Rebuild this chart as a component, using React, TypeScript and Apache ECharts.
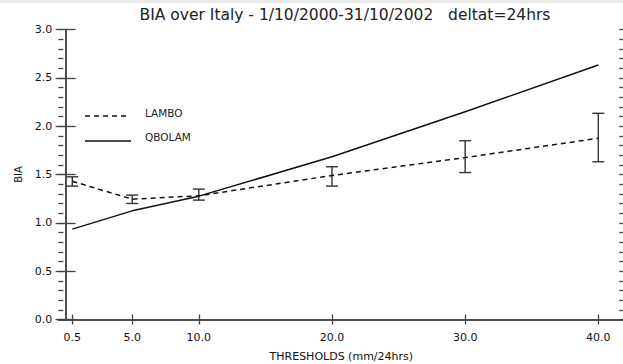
import React, { useEffect, useRef } from 'react';
import * as echarts from 'echarts';

const thresholds = [0.5, 5.0, 10.0, 20.0, 30.0, 40.0];
const lamboBia = [1.43, 1.245, 1.28, 1.49, 1.675, 1.875];
const lamboLow = [1.38, 1.2, 1.235, 1.38, 1.52, 1.632];
const lamboHigh = [1.476, 1.287, 1.349, 1.58, 1.849, 2.133];
const qbolamBia = [0.935, 1.124, 1.276, 1.683, 2.149, 2.633];
const seriesNames = ['LAMBO', 'QBOLAM'];
const titleText = 'BIA over Italy - 1/10/2000-31/10/2002   deltat=24hrs';

const FONT = 'DejaVu Sans';
const AXIS_COLOR = '#444';
const LINE_COLOR = '#111';
const X_MIN = -0.55;
const X_MAX = 41.95;

export default function App() {
  const ref = useRef<HTMLDivElement>(null);
  useEffect(() => {
    if (!ref.current) return;
    const chart = echarts.init(ref.current, undefined, { renderer: 'svg' });
    const axisLine = { show: true, lineStyle: { color: AXIS_COLOR, width: 1.5 } };
    const tickLine = { color: AXIS_COLOR, width: 1.3 };
    const fmt = (v: number) => Number(v).toFixed(1);
    const yBase = { type: 'value', min: 0, max: 3, splitLine: { show: false }, offset: 0 };
    chart.setOption({
      animation: false,
      backgroundColor: '#fff',
      title: {
        text: titleText,
        left: 340,
        textAlign: 'center',
        top: 2,
        textStyle: { fontFamily: FONT, fontSize: 15.5, fontWeight: 'normal', color: '#222' },
      },
      graphic: [
        { type: 'rect', left: 0, top: 0, shape: { width: 623, height: 3 }, style: { fill: '#e8e8e8' } },
        {
          type: 'line',
          shape: { x1: 85, y1: 116, x2: 130, y2: 116 },
          style: { stroke: LINE_COLOR, lineWidth: 1.5, lineDash: [5, 4] },
        },
        {
          type: 'line',
          shape: { x1: 85, y1: 141, x2: 131, y2: 141 },
          style: { stroke: LINE_COLOR, lineWidth: 1.5 },
        },
        {
          type: 'text',
          x: 145,
          y: 113,
          style: { text: seriesNames[0], fontFamily: FONT, fontSize: 10.5, fill: '#222', verticalAlign: 'middle' },
        },
        {
          type: 'text',
          x: 145,
          y: 137,
          style: { text: seriesNames[1], fontFamily: FONT, fontSize: 10.5, fill: '#222', verticalAlign: 'middle' },
        },
      ],
      grid: { left: 58.3, top: 29.5, width: 566, height: 290, containLabel: false, outerBoundsMode: 'none' },
      xAxis: [
        {
          type: 'value',
          position: 'bottom',
          min: X_MIN,
          max: X_MAX,
          axisLine,
          axisTick: { show: true, inside: true, length: 5, customValues: thresholds, lineStyle: tickLine },
          axisLabel: { customValues: thresholds, formatter: fmt, margin: 12, fontFamily: FONT, fontSize: 11, color: '#111' },
          splitLine: { show: false },
          name: 'THRESHOLDS (mm/24hrs)',
          nameLocation: 'middle',
          nameGap: 31,
          nameTextStyle: { fontFamily: FONT, fontSize: 11, color: '#111' },
        },
        {
          type: 'value',
          position: 'top',
          min: X_MIN,
          max: X_MAX,
          axisLine,
          axisTick: { show: true, inside: true, length: 5, customValues: thresholds, lineStyle: tickLine },
          axisLabel: { show: false },
          splitLine: { show: false },
        },
      ],
      yAxis: [
        {
          ...yBase,
          position: 'left',
          interval: 0.5,
          axisLine,
          axisTick: { show: true, inside: true, length: 10, lineStyle: tickLine },
          axisLabel: { formatter: fmt, margin: 6, fontFamily: FONT, fontSize: 11, color: '#111' },
          name: 'BIA',
          nameLocation: 'middle',
          nameGap: 31,
          nameRotate: 90,
          nameTextStyle: { fontFamily: FONT, fontSize: 10, color: '#111' },
        },
        {
          ...yBase,
          position: 'right',
          interval: 0.5,
          axisLine,
          axisTick: { show: true, inside: true, length: 10, lineStyle: tickLine },
          axisLabel: { show: false },
        },
        {
          ...yBase,
          position: 'left',
          interval: 0.1,
          axisLine: { show: false },
          axisTick: { show: true, inside: true, length: 5, lineStyle: tickLine },
          axisLabel: { show: false },
        },
        {
          ...yBase,
          position: 'right',
          interval: 0.1,
          axisLine: { show: false },
          axisTick: { show: true, inside: true, length: 5, lineStyle: tickLine },
          axisLabel: { show: false },
        },
      ],
      series: [
        {
          name: seriesNames[0],
          type: 'line',
          xAxisIndex: 0,
          yAxisIndex: 0,
          symbol: 'none',
          data: thresholds.map((t, i) => [t, lamboBia[i]]),
          lineStyle: { color: LINE_COLOR, width: 1.5, type: [5, 4] },
          itemStyle: { color: LINE_COLOR },
        },
        {
          name: seriesNames[1],
          type: 'line',
          xAxisIndex: 0,
          yAxisIndex: 0,
          symbol: 'none',
          data: thresholds.map((t, i) => [t, qbolamBia[i]]),
          lineStyle: { color: LINE_COLOR, width: 1.5, type: 'solid' },
          itemStyle: { color: LINE_COLOR },
        },
        {
          name: 'LAMBO range',
          type: 'custom',
          xAxisIndex: 0,
          yAxisIndex: 0,
          data: thresholds.map((t, i) => [t, lamboLow[i], lamboHigh[i]]),
          renderItem: (params: any, api: any) => {
            const x = api.value(0);
            const lo = api.coord([x, api.value(1)]);
            const hi = api.coord([x, api.value(2)]);
            const hw = 6;
            const style = { stroke: '#333', lineWidth: 1.4 };
            return {
              type: 'group',
              children: [
                { type: 'line', shape: { x1: hi[0], y1: hi[1], x2: lo[0], y2: lo[1] }, style },
                { type: 'line', shape: { x1: hi[0] - hw, y1: hi[1], x2: hi[0] + hw, y2: hi[1] }, style },
                { type: 'line', shape: { x1: lo[0] - hw, y1: lo[1], x2: lo[0] + hw, y2: lo[1] }, style },
              ],
            };
          },
        },
      ],
    });
    return () => chart.dispose();
  }, []);
  return <div ref={ref} style={{ position: 'absolute', left: 0, top: 0, width: 623, height: 364 }} />;
}
